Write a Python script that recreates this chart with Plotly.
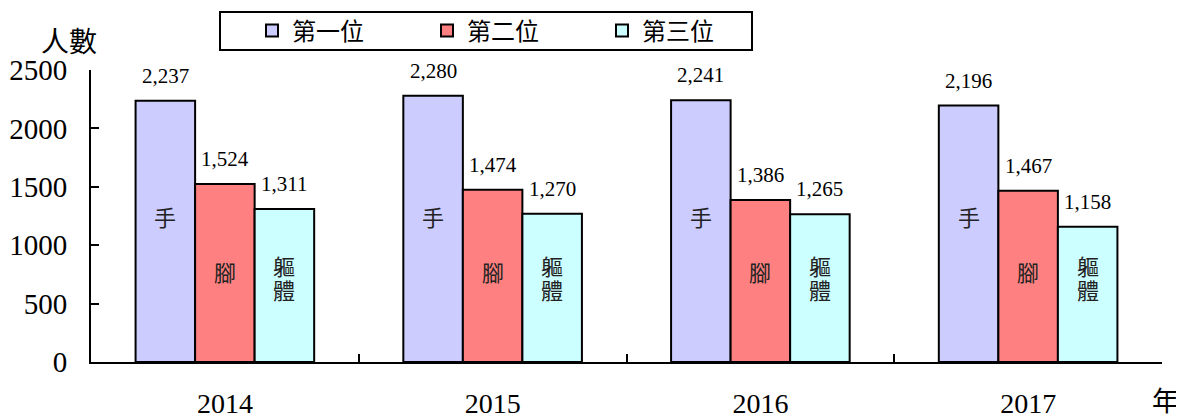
import plotly.graph_objects as go

years = ["2014", "2015", "2016", "2017"]
series_names = ["第一位", "第二位", "第三位"]
first = [2237, 2280, 2241, 2196]
second = [1524, 1474, 1386, 1467]
third = [1311, 1270, 1265, 1158]
inner_labels = ["手", "腳", "軀體"]

colors = ["#CCCCFF", "#FF8080", "#CCFFFF"]
label_y = [1250, 780, 730]  # vertical placement of in-bar labels (axis units)

SERIF = "Liberation Serif, Times New Roman, serif"
CJK = "Noto Sans CJK TC, Noto Sans CJK SC, sans-serif"

# page body adds an 8px offset; figure is sized to fit the 1184x418 window
OFF = 8
W, H = 1184 - OFF, 418 - OFF
ml, mr, mt, mb = 91 - OFF, 22, 70 - OFF, 56
plot_w = W - ml - mr
ph = H - mt - mb
bargap = 0.333
bar_px = plot_w / len(years) * (1 - bargap) / 3
char_step = 24  # vertical spacing of stacked in-bar characters (px)

fig = go.Figure()
all_series = [first, second, third]
for name, vals, col in zip(series_names, all_series, colors):
    fig.add_trace(go.Bar(
        x=years, y=vals, name=name,
        marker=dict(color=col, line=dict(color="black", width=2)),
        hoverinfo="skip",
    ))

annotations = []
for j, vals in enumerate(all_series):
    shift = (j - 1) * bar_px
    chars = list(inner_labels[j])
    n = len(chars)
    for i, v in enumerate(vals):
        annotations.append(dict(
            x=i, y=v, xref="x", yref="y", text=f"{v:,}", showarrow=False,
            xshift=shift, yshift=25, yanchor="middle",
            font=dict(family=SERIF, size=21, color="black"),
        ))
        for k, ch in enumerate(chars):
            annotations.append(dict(
                x=i, y=label_y[j], xref="x", yref="y", text=ch,
                showarrow=False, xshift=shift,
                yshift=((n - 1) / 2 - k) * char_step, yanchor="middle",
                font=dict(family=CJK, size=22, color="#222222"),
            ))

def px_x(sx):
    return (sx - OFF - ml) / plot_w

def px_y(sy):
    return 1 - (sy - OFF - mt) / ph

annotations.append(dict(
    x=px_x(69), y=px_y(40), xref="paper", yref="paper", text="人數", showarrow=False,
    xanchor="center", yanchor="middle", font=dict(family=CJK, size=28, color="black"),
))
annotations.append(dict(
    x=px_x(1165), y=px_y(399), xref="paper", yref="paper", text="年", showarrow=False,
    xanchor="center", yanchor="middle", font=dict(family=CJK, size=27, color="black"),
))

fig.update_layout(
    template="none",
    width=W, height=H,
    margin=dict(l=ml, r=mr, t=mt, b=mb, autoexpand=False),
    paper_bgcolor="white", plot_bgcolor="white",
    barmode="group", bargap=bargap, bargroupgap=0,
    showlegend=True,
    legend=dict(
        orientation="h", x=px_x(252), xanchor="left",
        y=px_y(31), yanchor="middle",
        font=dict(family=CJK, size=24, color="black"),
        bgcolor="rgba(0,0,0,0)", borderwidth=0,
        entrywidth=130, entrywidthmode="pixels",
        traceorder="normal",
    ),
    shapes=[dict(type="rect", xref="paper", yref="paper",
                 x0=px_x(220), x1=px_x(752), y0=px_y(50), y1=px_y(12),
                 line=dict(color="black", width=2), fillcolor="rgba(0,0,0,0)")],
    annotations=annotations,
    xaxis=dict(
        type="category", categoryorder="array", categoryarray=years,
        range=[-0.5, len(years) - 0.5], autorange=False, automargin=False,
        showline=True, linecolor="black", linewidth=2,
        ticks="inside", tickson="boundaries", ticklen=8, tickwidth=2, tickcolor="black",
        showgrid=False, zeroline=False,
        tickfont=dict(family=SERIF, size=28, color="black"),
        ticklabelstandoff=15,
    ),
    yaxis=dict(
        range=[0, 2500], autorange=False, automargin=False,
        tickvals=[0, 500, 1000, 1500, 2000, 2500],
        showline=True, linecolor="black", linewidth=2,
        ticks="inside", ticklen=8, tickwidth=2, tickcolor="black",
        showgrid=False, zeroline=False,
        tickfont=dict(family=SERIF, size=29, color="black"),
        ticklabelstandoff=16,
    ),
)

fig.write_html("out.html")
